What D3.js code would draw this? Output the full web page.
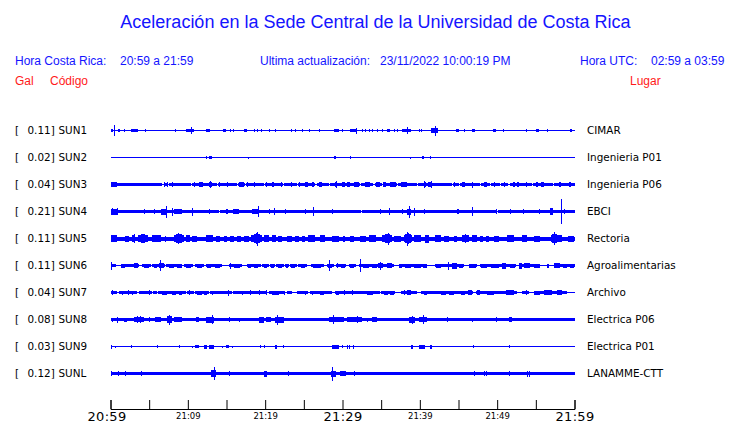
<!DOCTYPE html>
<html>
<head>
<meta charset="utf-8">
<script src="https://cdn.jsdelivr.net/npm/d3@7"></script>
<style>
  html, body { margin: 0; padding: 0; background: #fff; }
  svg { display: block; }
</style>
</head>
<body>
<script>
// ---------------- DATA ----------------
const titleText = "Aceleración en la Sede Central de la Universidad de Costa Rica";
const headerTexts = ["Hora Costa Rica:", "20:59 a 21:59", "Ultima actualización:", "23/11/2022 10:00:19 PM", "Hora UTC:", "02:59 a 03:59"];
const columnHeads = ["Gal", "Código", "Lugar"];

const stations = ["SUN1", "SUN2", "SUN3", "SUN4", "SUN5", "SUN6", "SUN7", "SUN8", "SUN9", "SUNL"];
const peakGal = ["0.11", "0.02", "0.04", "0.21", "0.11", "0.11", "0.04", "0.08", "0.03", "0.12"];
const places = ["CIMAR", "Ingenieria P01", "Ingenieria P06", "EBCI", "Rectoria", "Agroalimentarias", "Archivo", "Electrica P06", "Electrica P01", "LANAMME-CTT"];
// background (noise) half amplitude of each trace
const baseAmp = [0.5, 0.5, 1.5, 1.8, 2, 1.5, 1.5, 1.5, 0.5, 1.8];

// events: [minute, halfAmp] = spike ; [fromMinute, toMinute, halfAmp] = burst
const sun1 = [[0,0.3,1.5],[0.5,5.5],[1.0,1.2,1.5],[1.7,1.9,1.5],[2.6,3.5,1.3],[4.5,1.5],[8.4,1.5],[9.7,10.8,1.5],[10.4,3.5],[12.3,12.9,1.5],[14.6,14.9,1.3],[15.5,1.5],[15.9,1.5],[17.3,17.6,1.5],[18.5,1.5],[18.9,1.5],[19.5,1.5],[20.5,1.5],[21.3,1.5],[23.3,23.5,1.3],[23.8,1.5],[24.8,1.5],[25.65,1.5],[26.9,1.5],[28.9,29.5,1.5],[29.9,30.1,1.3],[31.0,31.9,1.5],[31.7,3],[32.5,1.5],[32.97,1.5],[33.4,1.5],[33.8,1.5],[34.5,1.5],[35.1,1.5],[35.8,36.2,1.3],[36.6,1.5],[37.07,1.5],[37.7,38.8,1.8],[38.3,3.5],[39.9,1.5],[40.1,1.5],[41.4,42.3,2.5],[42.0,5],[44.7,45.0,1.5],[45.7,1.5],[46.7,47.1,1.5],[49.4,49.8,1.5],[50.7,1.5],[53.7,1.5],[55.0,55.4,1.5],[56.5,1.5],[59.4,59.7,1.5]];
const sun2 = [[12.3,1.3],[12.8,13.1,1.5],[17.8,1],[28.9,29.2,1.5],[30.95,1.3],[38.7,1],[40.3,40.6,1.5],[41.3,41.5,1.5]];
const sun3 = [[0,0.8,2.5],[6.9,2.5],[7.3,2.5],[8.0,2.5],[10.8,2.5],[11.4,11.9,2.5],[12.7,13.1,2.5],[12.9,3.5],[14.0,2.5],[15.1,2.5],[16.6,17.2,2.5],[17.7,2.5],[18.5,2.5],[20.05,2.5],[20.9,21.2,2.5],[22.0,22.2,2.5],[23.3,2.5],[24.4,2.5],[25.2,25.5,2.5],[26.0,26.3,2.5],[27.0,27.3,2.5],[29.0,29.3,2.5],[29.1,3.5],[29.9,30.3,2.5],[30.6,31.0,2.5],[31.5,32.1,2.5],[32.9,33.6,2.5],[34.3,34.9,2.5],[35.3,35.6,2.5],[36.2,36.9,2.5],[37.5,38.4,2.5],[40.5,40.75,2.5],[40.6,3.5],[41.1,41.6,2.5],[41.4,3.5],[44.4,44.6,2.5],[45.5,45.9,2.5],[46.7,46.9,3],[48.3,48.7,2.5],[49.6,2.5],[50.9,2.5],[52.0,52.3,2.5],[52.6,52.8,2.5],[53.7,2.5],[55.0,55.3,2.5],[55.7,56.0,2.5],[58.0,58.2,2.5],[59.3,59.6,2.5]];
const sun4 = [[0.1,0.8,3],[0.2,3.5],[0.86,3.5],[4.3,2.5],[5.6,2.5],[6.5,7.3,3],[7.2,6],[8.0,4],[8.2,9.3,2.5],[10.6,4],[12.7,2.5],[14.9,15.2,2.5],[15.8,16.6,2.5],[18.3,19.2,2.5],[19.1,5.5],[20.5,2.5],[21.1,21.3,3.5],[22.6,2.5],[25.2,2.5],[26.2,4.5],[28.7,2.5],[34.9,2.5],[36.0,3.5],[37.7,2.5],[38.3,38.8,3],[38.6,6],[39.2,4],[40.6,2.5],[44.8,45.0,2.5],[46.8,4.5],[49.8,2.5],[51.7,2.5],[53.4,2.5],[55.4,2.5],[56.8,57.2,3.5],[58.2,12.5],[58.7,2.5]];
const sun5 = [[0,0.85,3.3],[1.9,2.4,3],[2.8,3.2,3.3],[3.0,4.5],[3.6,4.8,3.3],[4.0,4.5,4.3],[5.4,6.5,3.3],[7.1,3],[8.2,9.5,3.3],[8.5,9.2,4.3],[8.75,5.5],[9.7,10.3,3.3],[10.6,11.2,3],[12.3,13.2,3.3],[13.6,14.2,3],[14.65,15.1,3],[15.4,16.0,3],[16.4,16.9,3],[17.2,17.9,3],[18.2,19.6,3.5],[18.5,19.3,4.5],[18.8,19.1,5.5],[19.0,7],[19.8,20.5,3.3],[20.9,21.4,3.3],[21.7,22.2,3],[22.8,23.5,3],[23.9,24.4,3],[24.7,25.2,3],[25.6,26.5,3.3],[27.1,27.8,3.3],[28.7,29.5,3],[30.0,30.3,3],[31.0,31.5,3],[32.3,33.0,3],[33.4,34.3,3.3],[35.1,36.4,3.5],[35.5,36.1,4.5],[35.9,6],[36.6,37.5,3],[37.9,39.0,3.5],[38.1,38.8,4.5],[38.3,38.6,5.5],[38.4,7],[39.2,40.1,3.3],[40.7,41.2,4],[42.0,42.7,3.3],[43.1,43.8,3],[44.4,44.8,3],[45.5,46.3,3.5],[45.8,46.0,4.3],[46.8,47.4,3.3],[47.8,48.2,3],[48.5,48.9,3],[49.6,50.2,3],[51.3,52.2,3.3],[53.2,53.9,3.3],[54.7,55.6,3],[56.9,58.4,3.5],[57.1,57.7,4.5],[57.3,6.5],[59.1,59.9,3]];
const sun6 = [[0,0.2,4],[1.3,1.9,2],[3.0,3.6,2.5],[4.3,4.95,2],[5.6,6.0,2],[6.25,6.9,2.5],[6.4,5.5],[7.5,8.2,2],[8.6,9.2,2],[9.8,10.4,2],[11.2,11.8,2],[12.5,13.0,2],[13.5,14.2,2],[15.5,3],[16.0,16.8,2],[17.8,18.2,2],[18.6,19.1,2],[19.8,20.3,2],[20.8,21.2,2],[21.6,22.2,2],[22.7,23.0,2],[23.4,23.9,2],[24.6,25.2,2],[26.2,27.2,2],[28.1,28.7,2],[28.3,5.5],[29.3,2.5],[29.8,30.3,2],[31.0,31.5,2],[32.3,6.5],[32.7,33.4,2],[33.8,34.4,2],[34.6,35.2,2.5],[34.9,4],[35.7,36.4,2.5],[37.3,37.7,2],[38.1,38.9,2],[39.3,40.2,2],[40.4,40.9,2],[42.1,42.8,2],[43.6,4],[44.2,44.8,3],[45.0,45.6,2],[46.4,47.2,2],[47.9,48.7,2],[49.2,50.2,2],[50.6,51.1,3],[51.6,52.3,2],[52.8,53.2,3],[53.5,54.2,2.5],[54.8,55.5,2],[56.5,56.7,2],[57.4,58.1,2.5],[58.5,59.0,2],[59.4,59.9,2]];
const sun7 = [[0.13,2.5],[1.5,2],[2.3,2.5],[2.8,2],[5.0,2.5],[6.7,7.3,2],[8.0,8.5,2],[8.9,9.3,2],[10.1,2.5],[11.2,11.8,2],[12.1,12.5,2],[13.15,2],[15.2,3],[17.0,2],[18.1,2.5],[19.2,2.5],[20.05,20.25,2.5],[20.9,21.8,2],[22.4,2],[25.2,2],[26.1,2],[27.15,27.6,2],[29.2,29.5,2],[30.2,2.5],[31.25,2.5],[33.2,34.0,2],[35.35,35.9,2],[36.2,36.6,2],[37.9,2.5],[38.4,38.8,2.5],[40.5,40.95,2],[42.7,43.4,2],[43.8,44.4,2],[45.3,45.9,2],[46.2,46.8,2.5],[47.4,47.8,2.5],[48.7,49.6,2],[51.1,52.2,2.5],[53.7,2.5],[54.75,55.6,2],[56.0,57.1,2.5],[57.8,58.4,2.5]];
const sun8 = [[0.13,2],[0.86,3],[1.7,2.15,2],[3.0,4.3,2.5],[3.4,3.5],[3.8,3.5],[5.0,2.5],[5.8,6.5,2.5],[7.3,8.0,3.5],[7.6,5],[8.2,9.3,2.5],[11.0,11.4,2.5],[12.3,13.4,3],[13.1,4.5],[15.3,2.5],[16.6,2],[19.2,19.8,3],[20.05,20.7,2.5],[21.3,22.4,3],[21.5,5],[28.2,30.2,2.5],[28.8,4.5],[30.6,32.5,2.5],[31.9,3.5],[33.2,2],[33.8,34.5,2.5],[38.6,39.4,3],[39.0,4],[39.9,40.95,2.5],[40.4,4.5],[43.5,2.5],[46.8,2],[49.9,2.5],[51.5,51.9,2.5]];
const sun9 = [[0,2],[0.55,1],[2.6,1.5],[6.0,1.5],[8.85,1.3],[10.5,1],[10.9,11.4,1.5],[12.1,12.5,2],[12.7,13.4,2],[14.4,1],[14.9,15.3,1.5],[15.7,1],[19.3,1.3],[19.8,1.5],[21.3,21.55,2],[22.3,1.5],[28.6,29.5,2],[29.95,1.5],[30.6,30.7,2],[30.9,31.0,2],[31.3,31.4,2],[38.8,39.1,2],[39.9,40.7,2],[41.3,41.55,2],[46.9,1.3],[51.5,1.3]];
const sunL = [[0,0.2,2.5],[1.0,2.5],[1.85,2.5],[4.0,2.2],[13.05,13.6,3.5],[13.35,6.5],[15.3,2.2],[19.8,20.25,3],[23.0,2.5],[28.45,29.1,3],[28.7,7],[29.74,30.4,2.5],[30.2,2.5],[31.5,2.2],[47.0,2.5],[48.3,2.2],[48.6,2.5],[51.5,2.2],[53.9,3],[54.1,3]];
const stationEvents = [sun1, sun2, sun3, sun4, sun5, sun6, sun7, sun8, sun9, sunL];

// stretches where the noise band drops to the bare line: [fromMinute, toMinute]
const gaps3 = [[6.7,6.95],[7.35,7.55],[10.4,10.6],[13.75,13.95],[16.4,16.5],[17.4,17.55],[19.8,19.95],[22.3,22.45],[24.1,24.3],[26.5,26.65],[28.2,28.4],[32.3,32.45],[34.0,34.15],[35.05,35.2],[37.05,37.2],[39.6,39.75],[44.15,44.3],[45.0,45.15],[47.75,47.9],[49.05,49.2],[50.35,50.5],[51.45,51.6],[54.45,54.6],[57.25,57.4]];
const gaps4 = [[14.0,14.15],[32.4,32.55],[50.0,50.15]];
const gaps6 = [[0.65,1.3],[3.65,4.1],[5.2,5.4],[7.05,7.2],[9.3,9.5],[10.7,10.9],[12.1,12.3],[14.4,15.3],[17.0,17.7],[19.4,19.55],[20.5,20.65],[21.3,21.45],[22.4,22.55],[23.1,23.25],[24.1,24.3],[25.4,25.9],[27.6,28.0],[28.9,29.2],[30.4,30.8],[31.7,32.1],[36.6,37.3],[40.95,42.0],[45.7,46.3],[47.4,47.8],[52.4,52.8],[55.6,56.5],[56.7,57.3]];
const gaps7 = [[0.86,1.1],[3.45,3.65],[5.4,5.55],[5.95,6.1],[9.7,9.9],[10.75,10.9],[12.7,12.85],[15.7,15.9],[20.3,20.45],[22.6,22.8],[23.5,24.1],[25.6,25.75],[28.7,29.05],[34.85,35.0],[36.85,37.5],[39.65,40.1],[46.9,47.2],[52.6,53.2],[54.1,54.7],[59.05,60]];
const stationGaps = [[], [], gaps3, gaps4, [], gaps6, gaps7, [], [], []];

// time axis (minutes after 20:59)
const tickMinutes = [0, 5, 10, 15, 20, 25, 30, 35, 40, 45, 50, 55, 60];
const tickLabels = ["20:59", "", "21:09", "", "21:19", "", "21:29", "", "21:39", "", "21:49", "", "21:59"];
const majorLabels = ["20:59", "21:29", "21:59"];
const spikeDuration = 0.13; // minutes

// ---------------- CHART ----------------
const W = 740, H = 423;
const BLUE = "#0000ff", TEXTBLUE = "#1414ff", RED = "#ff1a1a";
const svg = d3.select("body").append("svg").attr("width", W).attr("height", H);

const x = d3.scaleLinear().domain([0, 60]).range([110.5, 574.5]);
const y = d3.scalePoint().domain(stations).range([130.5, 373.5]);
const amp = d3.scaleLinear().domain([0, 12.5]).range([0, 12.5]);

// title and header
svg.append("text").attr("x", 375.5).attr("y", 27.5).attr("text-anchor", "middle")
  .attr("font-family", "Liberation Sans, Arial, sans-serif").attr("font-size", 18).attr("fill", TEXTBLUE)
  .text(titleText);

const headerX = [15, 120, 260, 380, 580, 651];
svg.append("g").selectAll("text").data(headerTexts).join("text")
  .attr("x", (d, i) => headerX[i]).attr("y", 65)
  .attr("font-family", "Liberation Sans, Arial, sans-serif").attr("font-size", 12).attr("fill", TEXTBLUE)
  .text(d => d);

const headX = [15, 50, 630];
svg.append("g").selectAll("text").data(columnHeads).join("text")
  .attr("x", (d, i) => headX[i]).attr("y", 85)
  .attr("font-family", "Liberation Sans, Arial, sans-serif").attr("font-size", 12).attr("fill", RED)
  .text(d => d);

// station labels
const labelFont = "DejaVu Sans, sans-serif";
const lab = svg.append("g").attr("font-family", labelFont).attr("font-size", 10.4).attr("fill", "#000");
stations.forEach((s, i) => {
  const yy = y(s) + 3.5;
  lab.append("text").attr("x", 15).attr("y", yy).text("[");
  lab.append("text").attr("x", 27.5).attr("y", yy).text(peakGal[i] + "]");
  lab.append("text").attr("x", 58.5).attr("y", yy).text(s);
  lab.append("text").attr("x", 587).attr("y", yy).text(places[i]);
});

// traces
const traces = svg.append("g").attr("fill", BLUE).attr("shape-rendering", "crispEdges");
stations.forEach((s, i) => {
  const g = traces.append("g");
  const yc = y(s);
  // bare line
  g.append("rect").attr("x", x(0)).attr("width", x(60) - x(0) + 0.5)
    .attr("y", yc - amp(0.5)).attr("height", 2 * amp(0.5));
  // noise band interrupted by gaps
  const segs = [];
  let start = 0;
  stationGaps[i].slice().sort((a, b) => a[0] - b[0]).forEach(gp => {
    if (gp[0] > start) segs.push([start, gp[0]]);
    start = Math.max(start, gp[1]);
  });
  if (start < 60) segs.push([start, 60]);
  g.selectAll("rect.band").data(segs).join("rect").attr("class", "band")
    .attr("x", d => x(d[0])).attr("width", d => Math.max(1, x(d[1]) - x(d[0]) + (d[1] === 60 ? 0.5 : 0)))
    .attr("y", yc - amp(baseAmp[i])).attr("height", 2 * amp(baseAmp[i]));
  // bursts and spikes
  const ev = stationEvents[i].map(e => e.length === 2 ? { t0: e[0], t1: e[0] + spikeDuration, a: e[1] } : { t0: e[0], t1: e[1], a: e[2] });
  g.selectAll("rect.ev").data(ev).join("rect").attr("class", "ev")
    .attr("x", d => x(d.t0)).attr("width", d => Math.max(1, x(d.t1) - x(d.t0)))
    .attr("y", d => yc - amp(d.a)).attr("height", d => 2 * amp(d.a));
});

// time axis
const axis = d3.axisBottom(x).tickValues(tickMinutes).tickSize(-9).tickFormat((d, i) => tickLabels[i]);
const ax = svg.append("g").attr("transform", "translate(0,409)").call(axis);
ax.select(".domain").attr("stroke", "#000");
ax.selectAll(".tick line").attr("stroke", "#000");
ax.selectAll(".tick text")
  .attr("dy", null)
  .attr("font-family", labelFont)
  .attr("fill", "#000")
  .attr("dx", (d, i) => i === 0 ? -4 : 0)
  .attr("y", (d, i) => majorLabels.includes(tickLabels[i]) ? 12 : 9.5)
  .attr("font-size", (d, i) => majorLabels.includes(tickLabels[i]) ? 13 : 8.5)
  .attr("letter-spacing", (d, i) => majorLabels.includes(tickLabels[i]) ? 0.3 : 0);
</script>
</body>
</html>
